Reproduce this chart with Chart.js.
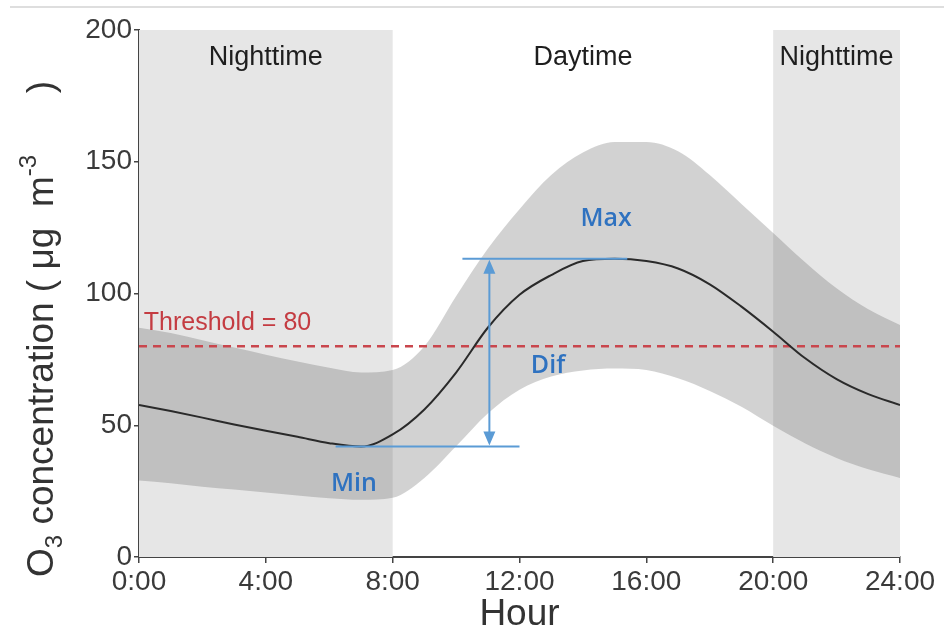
<!DOCTYPE html>
<html lang="en">
<head>
<meta charset="UTF-8">
<title>O3 diurnal cycle</title>
<script src="https://cdn.jsdelivr.net/npm/chart.js@4"></script>
<style>
  * { margin: 0; padding: 0; box-sizing: border-box; }
  body { background: #fff; width: 944px; height: 633px; overflow: hidden; position: relative; }
  .topline { position: absolute; top: 6px; left: 10px; right: 0; height: 2px; background: #dedede; }
  #wrap { position: absolute; left: 0; top: 0; width: 944px; height: 633px; }
</style>
</head>
<body>
<div class="topline"></div>
<div id="wrap"><canvas id="o3Chart" width="944" height="633"></canvas></div>
<script>
// hourly diurnal cycle of O3 (ug m-3)
const hours = [0, 1, 2, 3, 4, 5, 6, 7, 8, 9, 10, 11, 12, 13, 14, 15, 16, 17, 18, 19, 20, 21, 22, 23, 24];
const meanO3 = [57.7, 55.4, 52.9, 50.3, 47.9, 45.6, 43.2, 41.9, 46.5, 56, 70, 87, 99.5, 107, 112.3, 113.2, 112.3, 109.5, 103.5, 95, 85.5, 75.5, 67.5, 61.8, 57.7];
const upperO3 = [87, 85, 82.3, 79.5, 76.8, 74.2, 71.8, 70, 71, 80, 99, 117, 132, 145, 153.5, 157.5, 157.5, 154, 145, 134, 123, 112, 102, 94, 88];
const lowerO3 = [29, 28, 26.7, 25.6, 24.5, 23.3, 22.3, 21.7, 22.5, 30, 42, 54.5, 63.5, 68.5, 70.8, 71.5, 71, 67.8, 63, 57, 49.8, 43.2, 37.6, 33.3, 30];
const threshold = 80;

const xTicks = [0, 4, 8, 12, 16, 20, 24];
const xTickLabels = ['0:00', '4:00', '8:00', '12:00', '16:00', '20:00', '24:00'];
const yTicks = [0, 50, 100, 150, 200];

const nightSpans = [[0, 8], [20, 24]];
const periodLabels = ['Nighttime', 'Daytime', 'Nighttime'];
const periodHours = [4, 14, 22];

// where the Min / Max / Dif marks sit (hours)
const minSpan = [6.2, 12];
const maxSpan = [10.2, 15.4];
const arrowHour = 11.05;

const FONT = "'Liberation Sans', Arial, Helvetica, sans-serif";
Chart.defaults.font.family = FONT;

const pts = arr => hours.map((h, i) => ({ x: h, y: arr[i] }));

// grey night boxes behind everything
const nightShade = {
  id: 'nightShade',
  beforeDatasetsDraw(chart) {
    const { ctx, chartArea: a, scales: { x } } = chart;
    ctx.save();
    ctx.fillStyle = '#e6e6e6';
    nightSpans.forEach(([s, e]) => {
      const x0 = x.getPixelForValue(s), x1 = x.getPixelForValue(e);
      ctx.fillRect(x0, a.top, x1 - x0, a.bottom - a.top);
    });
    ctx.restore();
  }
};

// labels, threshold text and the min/max/dif marks
const notes = {
  id: 'notes',
  afterDatasetsDraw(chart) {
    const { ctx, scales: { x, y } } = chart;
    const px = h => x.getPixelForValue(h);
    const py = v => y.getPixelForValue(v);
    ctx.save();

    ctx.font = '27px ' + FONT;
    ctx.fillStyle = '#1e1e1e';
    ctx.textAlign = 'center';
    ctx.textBaseline = 'middle';
    periodLabels.forEach((t, i) => ctx.fillText(t, px(periodHours[i]), py(189.7)));

    ctx.font = '25px ' + FONT;
    ctx.fillStyle = '#c43c42';
    ctx.textAlign = 'left';
    ctx.textBaseline = 'alphabetic';
    ctx.fillText('Threshold = ' + threshold, px(0.15), py(threshold) - 16);

    const maxV = Math.max(...meanO3);
    const minV = Math.min(...meanO3);
    ctx.strokeStyle = '#5b9bd5';
    ctx.fillStyle = '#5b9bd5';
    ctx.lineWidth = 2;
    ctx.beginPath();
    ctx.moveTo(px(maxSpan[0]), py(maxV));
    ctx.lineTo(px(maxSpan[1]), py(maxV));
    ctx.moveTo(px(minSpan[0]), py(minV));
    ctx.lineTo(px(minSpan[1]), py(minV));
    ctx.stroke();

    // double arrow
    const ax = px(arrowHour), yTop = py(maxV) + 1, yBot = py(minV) - 1;
    ctx.beginPath();
    ctx.moveTo(ax, yTop + 10);
    ctx.lineTo(ax, yBot - 10);
    ctx.stroke();
    ctx.beginPath();
    ctx.moveTo(ax, yTop); ctx.lineTo(ax - 6, yTop + 14); ctx.lineTo(ax + 6, yTop + 14); ctx.closePath();
    ctx.moveTo(ax, yBot); ctx.lineTo(ax - 6, yBot - 14); ctx.lineTo(ax + 6, yBot - 14); ctx.closePath();
    ctx.fill();

    ctx.font = "600 25px 'Open Sans', 'Noto Sans', sans-serif";
    ctx.fillStyle = '#2f72c0';
    ctx.textAlign = 'center';
    ctx.textBaseline = 'middle';
    ctx.fillText('Max', px(14.73), py(128.3));
    ctx.fillText('Dif', px(12.9), py(72.5));
    ctx.fillText('Min', px(6.78), py(27.7));
    ctx.restore();
  }
};

// rotated y title with sub/superscripts
const yTitle = {
  id: 'yTitle',
  afterDraw(chart) {
    const { ctx, chartArea: a } = chart;
    const size = 37, small = 24;
    ctx.save();
    ctx.translate(53, a.bottom + 20);
    ctx.rotate(-Math.PI / 2);
    ctx.fillStyle = '#333';
    ctx.textAlign = 'left';
    ctx.textBaseline = 'alphabetic';
    const parts = [
      { t: 'O', s: size, dy: 0 },
      { t: '3', s: small, dy: 9 },
      { t: ' concentration ( \u03bcg  m', s: size, dy: 0 },
      { t: '-3', s: small, dy: -17 },
      { t: '      )', s: size, dy: 0 }
    ];
    let cx = 0;
    parts.forEach(p => {
      ctx.font = p.s + 'px ' + FONT;
      ctx.fillText(p.t, cx, p.dy);
      cx += ctx.measureText(p.t).width;
    });
    ctx.restore();
  }
};

new Chart(document.getElementById('o3Chart'), {
  type: 'line',
  data: {
    datasets: [
      {
        label: 'Mean',
        data: pts(meanO3),
        borderColor: '#2a2a2a',
        borderWidth: 2,
        pointRadius: 0,
        fill: false,
        cubicInterpolationMode: 'monotone'
      },
      {
        label: 'Threshold',
        data: [{ x: 0, y: threshold }, { x: 24, y: threshold }],
        borderColor: '#c9464d',
        borderWidth: 2.5,
        borderDash: [8, 6],
        pointRadius: 0,
        fill: false
      },
      {
        label: 'Upper',
        data: pts(upperO3),
        borderWidth: 0,
        borderColor: 'rgba(0,0,0,0)',
        backgroundColor: 'rgba(90,90,90,0.27)',
        pointRadius: 0,
        fill: '+1',
        cubicInterpolationMode: 'monotone'
      },
      {
        label: 'Lower',
        data: pts(lowerO3),
        borderWidth: 0,
        borderColor: 'rgba(0,0,0,0)',
        pointRadius: 0,
        fill: false,
        cubicInterpolationMode: 'monotone'
      }
    ]
  },
  options: {
    responsive: false,
    animation: false,
    layout: { padding: { top: 30, right: 44, left: 0, bottom: 0 } },
    plugins: { legend: { display: false }, tooltip: { enabled: false } },
    scales: {
      x: {
        type: 'linear',
        min: 0,
        max: 24,
        afterBuildTicks: s => { s.ticks = xTicks.map(v => ({ value: v })); },
        ticks: {
          callback: v => xTickLabels[xTicks.indexOf(v)],
          font: { size: 28 },
          color: '#3a3a3a',
          padding: 2,
          maxRotation: 0,
          autoSkip: false
        },
        grid: { display: true, drawOnChartArea: false, drawTicks: true, tickLength: 6, color: '#444', lineWidth: 1.5 },
        border: { display: true, color: '#444', width: 2 },
        title: { display: true, text: 'Hour', font: { size: 37, lineHeight: 1 }, color: '#333', padding: 0 },
        afterFit: s => { s.height = 76; }
      },
      y: {
        min: 0,
        max: 200,
        afterBuildTicks: s => { s.ticks = yTicks.map(v => ({ value: v })); },
        ticks: { font: { size: 28 }, color: '#3a3a3a', padding: 2 },
        grid: { display: true, drawOnChartArea: false, drawTicks: true, tickLength: 5, color: '#444', lineWidth: 1.5 },
        border: { display: true, color: '#444', width: 2 },
        afterFit: s => { s.width = 139; }
      }
    }
  },
  plugins: [nightShade, notes, yTitle]
});
</script>
</body>
</html>
